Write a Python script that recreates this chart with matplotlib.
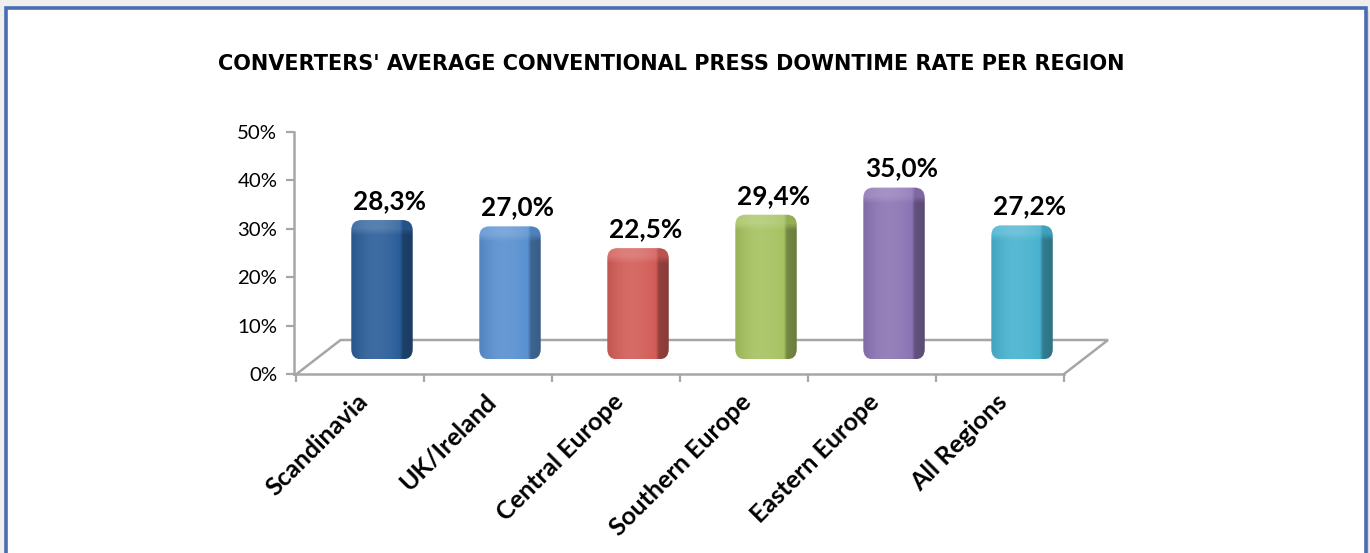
import numpy as np
import matplotlib
matplotlib.use("Agg")
import matplotlib.pyplot as plt
from matplotlib.patches import FancyBboxPatch, Rectangle
from matplotlib.colors import to_rgb
from matplotlib.transforms import offset_copy

# ---- data ----
regions = ["Scandinavia", "UK/Ireland", "Central Europe",
           "Southern Europe", "Eastern Europe", "All Regions"]
downtime_pct = [28.3, 27.0, 22.5, 29.4, 35.0, 27.2]
bar_colors = ["#2a5d99", "#5890d0", "#d25c57", "#a6c260", "#8c74b4", "#47b2cf"]
y_ticks = [0, 10, 20, 30, 40, 50]
title = "CONVERTERS' AVERAGE CONVENTIONAL PRESS DOWNTIME RATE PER REGION"

W, H = 1370, 553
fig = plt.figure(figsize=(W / 100, H / 100), dpi=100, facecolor="#eeeeee")
renderer = fig.canvas.get_renderer()


def size_for(text, width_px, **kw):
    """Font size (pt) that gives `text` the requested rendered width."""
    probe = fig.text(0, 0, text, fontsize=20, **kw)
    w = probe.get_window_extent(renderer).width
    probe.remove()
    return 20 * width_px / w


# framed white panel with a soft shadow
fig.add_artist(Rectangle((9 / W, -0.05), 1360 / W, (H - 11) / H + 0.05,
                         transform=fig.transFigure, facecolor="#d9d9d9",
                         edgecolor="none", zorder=-3))
fig.add_artist(Rectangle((6 / W, -0.05), 1360 / W, (H - 8) / H + 0.05,
                         transform=fig.transFigure, facecolor="white",
                         edgecolor="#4a6cb3", lw=2.6, zorder=-2))

# plot area
ax_left, ax_right, ax_top, ax_bot = 294, 1115, 132, 374
ax = fig.add_axes([ax_left / W, 1 - ax_bot / H,
                   (ax_right - ax_left) / W, (ax_bot - ax_top) / H])
ax.patch.set_visible(False)
xmin, xmax = -0.5156, 5.898
ax.set_xlim(xmin, xmax)
ax.set_ylim(0, 50)

px_x = (ax_right - ax_left) / (xmax - xmin)
px_y = (ax_bot - ax_top) / 50.0

grey = "#a6a6a6"
for s in ("top", "right"):
    ax.spines[s].set_visible(False)
for s in ("left", "bottom"):
    ax.spines[s].set_color(grey)
    ax.spines[s].set_linewidth(1.8)
n = len(regions)
ax.spines["bottom"].set_bounds(xmin, n - 0.5)

tick_fs = size_for("50%", 40, fontfamily="Lato")
ax.set_yticks(y_ticks)
ax.set_yticklabels([f"{t}%" for t in y_ticks], fontfamily="Lato",
                   fontsize=tick_fs)
ax.set_xticks(np.arange(-0.5, n, 1.0))
ax.set_xticklabels([])
ax.tick_params(axis="both", direction="out", length=6, width=1.6, color=grey)
ax.tick_params(axis="y", pad=6)

# perspective floor
dx = 44 / px_x
dy = 34 / px_y
floor_x = [xmin + 0.02, xmin + 0.02 + dx, n - 0.5 + dx, n - 0.5]
floor_y = [0, dy, dy, 0]
ax.plot(floor_x, floor_y, color=grey, lw=1.8, zorder=1, clip_on=False,
        solid_joinstyle="miter")

# bars: rounded boxes filled with a shaded image
aspect = px_x / px_y
half = 0.24
base = dy / 2 - 0.5


def mix(c, other, t):
    c = np.asarray(c)
    return c + (np.asarray(other) - c) * np.asarray(t)[..., None]


val_fs = size_for("28,3%", 73, fontfamily="Lato", fontweight="bold")

for i, (v, col) in enumerate(zip(downtime_pct, bar_colors)):
    xc = i + dx / 2
    top = v + dy / 2
    c = np.array(to_rgb(col))
    patch = FancyBboxPatch((xc - half, base), 2 * half, top - base,
                           boxstyle="round,pad=0,rounding_size=0.08",
                           mutation_aspect=aspect, facecolor="none",
                           edgecolor="none", zorder=3)
    ax.add_patch(patch)

    nx, ny = 160, 400
    u = np.linspace(0, 1, nx)[None, :].repeat(ny, 0)
    vv = np.linspace(0, 1, ny)[:, None].repeat(nx, 1)
    h_px = (top - base) * px_y
    us = 0.79
    side_t = np.clip((u - us) / 0.05, 0, 1)
    # soft top surface, fading down over a few pixels
    top_t = np.clip((vv - (1 - 16 / h_px)) / (7 / h_px), 0, 1)

    shade = np.sin(np.pi * np.clip(u / us, 0, 1))
    front = mix(c, np.ones(3), 0.09 * shade)
    front = mix(front, np.zeros(3), 0.08 * (1 - shade) * (u < us * 0.5))
    side = mix(c, np.zeros(3), 0.28 + 0.08 * (u - us) / (1 - us))
    body = mix(front, side, side_t)
    top_front = mix(c, np.ones(3), 0.12 + 0.10 * shade)
    top_side = mix(c, np.zeros(3), 0.10)
    top_col = mix(top_front, top_side, side_t)
    img = mix(body, top_col, top_t)
    img = np.clip(img, 0, 1)

    im = ax.imshow(img, extent=(xc - half, xc + half, base, top),
                   origin="lower", aspect="auto", interpolation="bilinear",
                   zorder=3)
    im.set_clip_path(patch)

    lab = f"{v:.1f}".replace(".", ",") + "%"
    ax.text(xc + 0.06, top, lab, ha="center", va="baseline",
            fontfamily="Lato", fontweight="bold", fontsize=val_fs,
            color="black",
            transform=offset_copy(ax.transData, fig=fig, x=0, y=11,
                                  units="dots"),
            zorder=5)

# category labels, rotated
cat_fs = size_for("Central Europe", 168, fontfamily="Lato", fontweight="bold")
lab_tr = offset_copy(ax.transData, fig=fig, x=0, y=-24, units="dots")
for i, name in enumerate(regions):
    ax.text(i + 0.03, 0, name, rotation=45, rotation_mode="anchor",
            ha="right", va="center", fontfamily="Lato", fontweight="bold",
            fontsize=cat_fs, transform=lab_tr, clip_on=False)

# title fitted to its width
title_fs = size_for(title, 907, fontfamily="DejaVu Sans", fontweight="bold")
fig.text(671 / W, 1 - 64 / H, title, ha="center", va="center",
         fontfamily="DejaVu Sans", fontweight="bold", fontsize=title_fs)

fig.savefig("out.png", dpi=100, facecolor=fig.get_facecolor())
